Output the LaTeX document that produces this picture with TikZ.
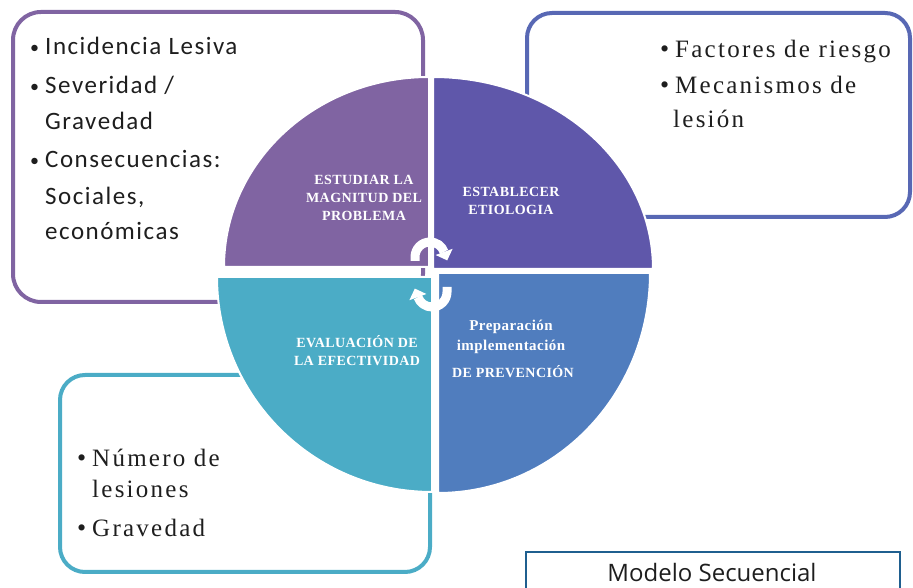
\documentclass[tikz,border=0pt]{standalone}
\usepackage{fontspec}
\setmainfont{Liberation Serif}
\newfontfamily\calfont[LetterSpace=6]{Carlito}
\newfontfamily\serfont[LetterSpace=9]{Liberation Serif}
\newfontfamily\quadfont[LetterSpace=3]{Liberation Serif}
\newfontfamily\capfont{Open Sans}
\usetikzlibrary{arrows.meta}
\definecolor{cPurple}{HTML}{8064A2}
\definecolor{cIndigo}{HTML}{5F57AA}
\definecolor{cBlue}{HTML}{507DBE}
\definecolor{cTeal}{HTML}{4BACC6}
\definecolor{cBoxBlue}{HTML}{5868B4}
\definecolor{cFrame}{HTML}{1F5F8F}
\definecolor{cText}{HTML}{1E1E1E}
\begin{document}
\begin{tikzpicture}[x=1pt,y=1pt,
  infobox/.style={line width=4pt, rounded corners=28pt},
  quad/.style={draw=white, line width=2pt},
  qlabel/.style={text=white, font=\quadfont\bfseries\fontsize{14}{18}\selectfont, align=center, inner sep=0pt},
  qsmall/.style={text=white, font=\quadfont\bfseries\fontsize{15}{18}\selectfont, align=center, inner sep=0pt},
  calitem/.style={anchor=base west, inner sep=0pt, text=cText, font=\calfont\fontsize{25}{30}\selectfont},
  calbullet/.style={anchor=base west, inner sep=0pt, text=cText, font=\calfont\fontsize{18}{20}\selectfont},
  seritem/.style={anchor=base west, inner sep=0pt, text=cText, font=\serfont\fontsize{25}{30}\selectfont},
  serbullet/.style={anchor=base west, inner sep=0pt, text=cText, font=\serfont\fontsize{26}{28}\selectfont},
  cyclearc/.style={draw=white, line width=9pt},
  cyclehead/.style={fill=white},
]
\useasboundingbox (0,0) rectangle (913,588);

% info boxes
\draw[infobox, draw=cPurple] (13,286) rectangle (423,576);
\draw[infobox, draw=cBoxBlue, rounded corners=25pt] (527,371) rectangle (910,575);
\draw[infobox, draw=cTeal, rounded corners=25pt] (60,16) rectangle (430,213);
\draw[draw=cFrame, line width=2pt] (526,-10) rectangle (900,36);

% quadrants
\path[quad, fill=cPurple] (429,321) -- (224,321) arc[start angle=180, end angle=90, x radius=205pt, y radius=190pt] -- cycle;
\path[quad, fill=cIndigo] (433,319) -- (433,511) arc[start angle=90, end angle=0, x radius=220pt, y radius=192pt] -- cycle;
\path[quad, fill=cTeal] (432,311) -- (217,311) arc[start angle=180, end angle=270, radius=215pt] -- cycle;
\path[quad, fill=cBlue] (438,315) -- (650,315) arc[start angle=0, end angle=-90, x radius=212pt, y radius=220pt] -- cycle;

% cycle arrows (upper: left to right over the top; lower: right to left under the bottom)
\coordinate (a1s) at (415,327);
\draw[cyclearc] (a1s) -- (415,331) arc[start angle=180, end angle=20, radius=15pt];
\fill[cyclehead] (452.6,339.2) -- (435.6,333.0) -- (447.2,327.6) -- cycle;
\coordinate (a2s) at (447,301);
\draw[cyclearc] (a2s) -- (447,296) arc[start angle=0, end angle=-160, radius=15pt];
\fill[cyclehead] (409.4,287.8) -- (426.4,294.0) -- (414.8,299.4) -- cycle;

% quadrant labels
\node[qlabel] (q1) at (364,390) {ESTUDIAR LA\\MAGNITUD DEL\\PROBLEMA};
\node[qlabel] (q2) at (511,387) {ESTABLECER\\ETIOLOGIA};
\node[qlabel] (q3) at (357,237) {EVALUACIÓN DE\\LA EFECTIVIDAD};
\node[qsmall] (q4a) at (511,261) {Preparación};
\node[qsmall] (q4b) at (511,241) {implementación};
\node[qlabel] (q4c) at (513,216) {DE PREVENCIÓN};

% top-left box text
\node[calbullet] (tlb1) at (30,534) {•};
\node[calitem] (tl1) at (45,533) {Incidencia Lesiva};
\node[calbullet] (tlb2) at (30,495) {•};
\node[calitem] (tl2) at (45,494) {Severidad /};
\node[calitem] (tl3) at (45,458) {Gravedad};
\node[calbullet] (tlb4) at (30,421) {•};
\node[calitem] (tl4) at (45,420) {Consecuencias:};
\node[calitem] (tl5) at (45,383) {Sociales,};
\node[calitem] (tl6) at (45,348) {económicas};

% top-right box text
\node[serbullet] (trb1) at (660,530) {•};
\node[seritem] (tr1) at (675,530) {Factores de riesgo};
\node[serbullet] (trb2) at (660,494) {•};
\node[seritem] (tr2) at (675,494) {Mecanismos de};
\node[seritem] (tr3) at (673,460) {lesión};

% bottom-left box text
\node[serbullet] (blb1) at (77,121) {•};
\node[seritem] (bl1) at (92,121) {Número de};
\node[seritem] (bl2) at (92,90) {lesiones};
\node[serbullet] (blb3) at (77,51) {•};
\node[seritem] (bl3) at (92,51) {Gravedad};

% caption
\node[anchor=base, inner sep=0pt, text=cText, font=\capfont\fontsize{24}{26}\selectfont] (cap) at (712,6) {Modelo Secuencial};
\end{tikzpicture}
\end{document}
